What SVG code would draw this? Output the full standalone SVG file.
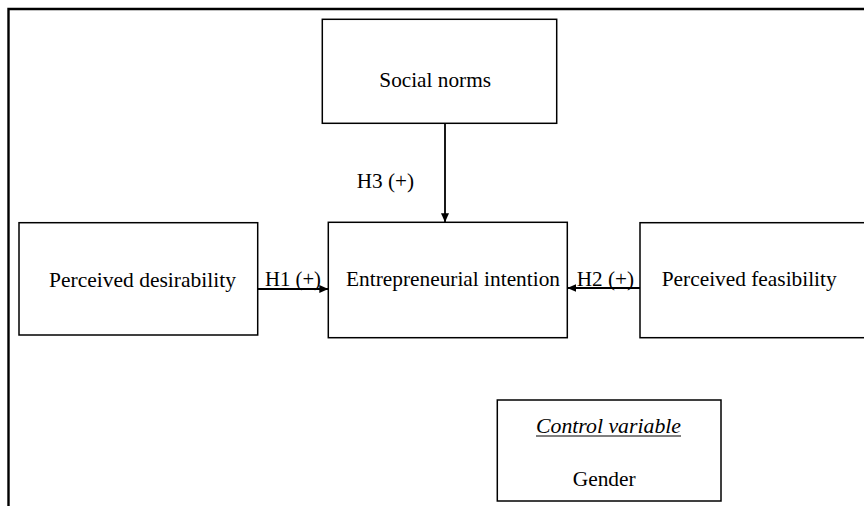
<svg xmlns="http://www.w3.org/2000/svg" width="864" height="506" viewBox="0 0 864 506">
<style>
  .box { fill: #ffffff; stroke: #000000; stroke-width: 1.5; }
  .lbl { font-family: "Liberation Serif", "Times New Roman", serif; font-size: 21px; fill: #000000; }
  .conn { stroke: #000000; stroke-width: 1.8; fill: none; }
  .frame { stroke: #000000; stroke-width: 2.4; fill: none; }
</style>
<defs>
  <marker id="arr" markerWidth="10" markerHeight="8" refX="9" refY="4" orient="auto" markerUnits="userSpaceOnUse">
    <path d="M0,0 L9,4 L0,8 Z" fill="#000000"/>
  </marker>
</defs>
<rect width="864" height="506" fill="#ffffff"/>
<g id="frame">
  <path class="frame" d="M8.5,506 L8.5,9 L864,9"/>
</g>
<g id="social-norms">
  <rect class="box" x="322.3" y="19.3" width="234.4" height="104"/>
  <text class="lbl" x="379.3" y="87" textLength="111.7" lengthAdjust="spacingAndGlyphs">Social norms</text>
</g>
<g id="perceived-desirability">
  <rect class="box" x="19" y="222.7" width="238.7" height="112.3"/>
  <text class="lbl" x="49" y="287" textLength="187" lengthAdjust="spacingAndGlyphs">Perceived desirability</text>
</g>
<g id="entrepreneurial-intention">
  <rect class="box" x="328.3" y="222.3" width="239" height="115.4"/>
  <text class="lbl" x="346" y="286" textLength="214" lengthAdjust="spacingAndGlyphs">Entrepreneurial intention</text>
</g>
<g id="perceived-feasibility">
  <rect class="box" x="640" y="222.7" width="230" height="115"/>
  <text class="lbl" x="661.7" y="286" textLength="175" lengthAdjust="spacingAndGlyphs">Perceived feasibility</text>
</g>
<g id="control-variable">
  <rect class="box" x="497.3" y="400" width="223.7" height="101"/>
  <text class="lbl" x="536" y="433" font-style="italic" textLength="145" lengthAdjust="spacingAndGlyphs">Control variable</text>
  <line x1="536" y1="436" x2="681" y2="436" stroke="#000000" stroke-width="1.2"/>
  <text class="lbl" x="572.7" y="486" textLength="63" lengthAdjust="spacingAndGlyphs">Gender</text>
</g>
<g id="connectors">
  <line class="conn" x1="257.7" y1="289" x2="328.3" y2="289" marker-end="url(#arr)"/>
  <line class="conn" x1="640" y1="288" x2="567.3" y2="288" marker-end="url(#arr)"/>
  <line class="conn" x1="445" y1="123.3" x2="445" y2="222.3" marker-end="url(#arr)"/>
  <text class="lbl" x="265" y="286" textLength="56" lengthAdjust="spacingAndGlyphs">H1 (+)</text>
  <text class="lbl" x="576.7" y="286" textLength="57.3" lengthAdjust="spacingAndGlyphs">H2 (+)</text>
  <text class="lbl" x="356.7" y="188" textLength="57.3" lengthAdjust="spacingAndGlyphs">H3 (+)</text>
</g>
</svg>
